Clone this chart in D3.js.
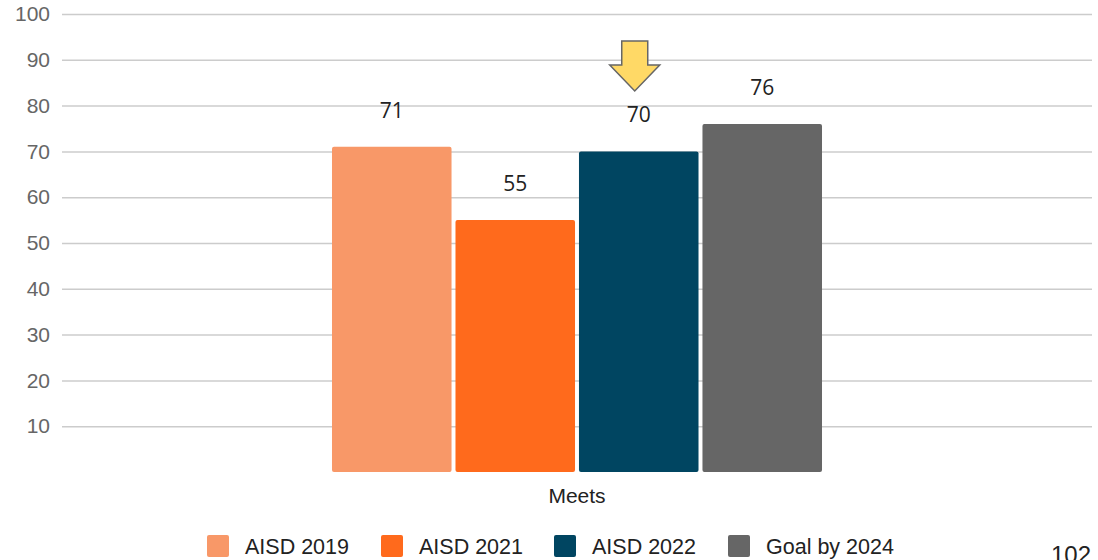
<!DOCTYPE html>
<html>
<head>
<meta charset="utf-8">
<script src="https://cdn.jsdelivr.net/npm/d3@7"></script>
<style>
  body { margin: 0; background: #fff; }
  text { font-family: "Liberation Sans", Arial, sans-serif; }
</style>
</head>
<body>
<div id="svg"></div>
<script>
let categories = ['Meets'];
let seriesNames = ['AISD 2019', 'AISD 2021', 'AISD 2022', 'Goal by 2024'];
let seriesValues = [71, 55, 70, 76];
let seriesColors = ['#f89868', '#ff6a1c', '#004561', '#666666'];
let yTicks = [10, 20, 30, 40, 50, 60, 70, 80, 90, 100];
let pageNumber = '102';

function makeGraph() {
    let w = 1098, h = 560;
    let svg = d3.select('#svg')
        .append('svg')
        .attr('width', w)
        .attr('height', h);

    let yScale = d3.scaleLinear()
        .domain([0, 100])
        .range([472, 14]);

    let xScale = d3.scaleBand()
        .domain(categories)
        .range([62, 1092])
        .paddingOuter(0.551);

    let inner = d3.scaleBand()
        .domain(seriesNames)
        .range([0, xScale.bandwidth()])
        .paddingInner(0.032);

    // grid + y labels
    let yAxis = d3.axisLeft(yScale)
        .tickValues(yTicks)
        .tickSize(-(1092 - 62))
        .tickPadding(12);

    let yAxisGroup = svg.append('g')
        .attr('transform', 'translate(62,0)')
        .call(yAxis);
    yAxisGroup.select('.domain').remove();
    yAxisGroup.selectAll('line')
        .attr('stroke', '#cccccc')
        .attr('stroke-width', 1.5);
    yAxisGroup.selectAll('text')
        .attr('fill', '#666666')
        .style('font-size', '21px')
        .style('font-family', '"Liberation Sans", Arial, sans-serif');

    let groups = svg.selectAll('.cat')
        .data(categories)
        .enter()
        .append('g')
        .attr('transform', d => `translate(${xScale(d)},0)`);

    let barData = seriesNames.map((s, i) => ({ name: s, value: seriesValues[i], color: seriesColors[i] }));

    groups.selectAll('rect')
        .data(barData)
        .enter()
        .append('rect')
        .attr('x', d => inner(d.name))
        .attr('y', d => yScale(d.value))
        .attr('width', inner.bandwidth())
        .attr('height', d => yScale(0) - yScale(d.value))
        .attr('rx', 2)
        .attr('fill', d => d.color);

    groups.selectAll('.val')
        .data(barData)
        .enter()
        .append('text')
        .attr('x', d => inner(d.name) + inner.bandwidth() / 2)
        .attr('y', d => yScale(d.value) - 29)
        .attr('text-anchor', 'middle')
        .style('font-family', '"Open Sans", "Noto Sans", sans-serif')
        .style('font-size', '21px')
        .attr('fill', '#222')
        .text(d => d.value);

    // x category label
    svg.selectAll('.xlab')
        .data(categories)
        .enter()
        .append('text')
        .attr('x', d => xScale(d) + xScale.bandwidth() / 2)
        .attr('y', 503)
        .attr('text-anchor', 'middle')
        .style('font-size', '21px')
        .attr('fill', '#222')
        .text(d => d);

    // arrow over AISD 2022
    let ax = xScale('Meets') + inner('AISD 2022') + inner.bandwidth() / 2 - 4;
    let top = 41;
    svg.append('path')
        .attr('d', `M${ax - 13},${top} L${ax + 13},${top} L${ax + 13},${top + 24} L${ax + 25},${top + 24} L${ax},${top + 50} L${ax - 25},${top + 24} L${ax - 13},${top + 24} Z`)
        .attr('fill', '#ffd966')
        .attr('stroke', '#666666')
        .attr('stroke-width', 1.5)
        .attr('stroke-linejoin', 'miter');

    // legend
    let legendX = [207, 381, 554, 728];
    let legend = svg.selectAll('.legend')
        .data(barData)
        .enter()
        .append('g')
        .attr('transform', (d, i) => `translate(${legendX[i]},535)`);
    legend.append('rect')
        .attr('width', 22)
        .attr('height', 22)
        .attr('rx', 2)
        .attr('fill', d => d.color);
    legend.append('text')
        .attr('x', 38)
        .attr('y', 19)
        .style('font-size', '21.5px')
        .attr('fill', '#222')
        .text(d => d.name);

    svg.append('text')
        .attr('x', 1051)
        .attr('y', 563)
        .style('font-size', '24px')
        .attr('fill', '#222')
        .text(pageNumber);
}

window.onload = () => {
    makeGraph();
}
</script>
</body>
</html>
